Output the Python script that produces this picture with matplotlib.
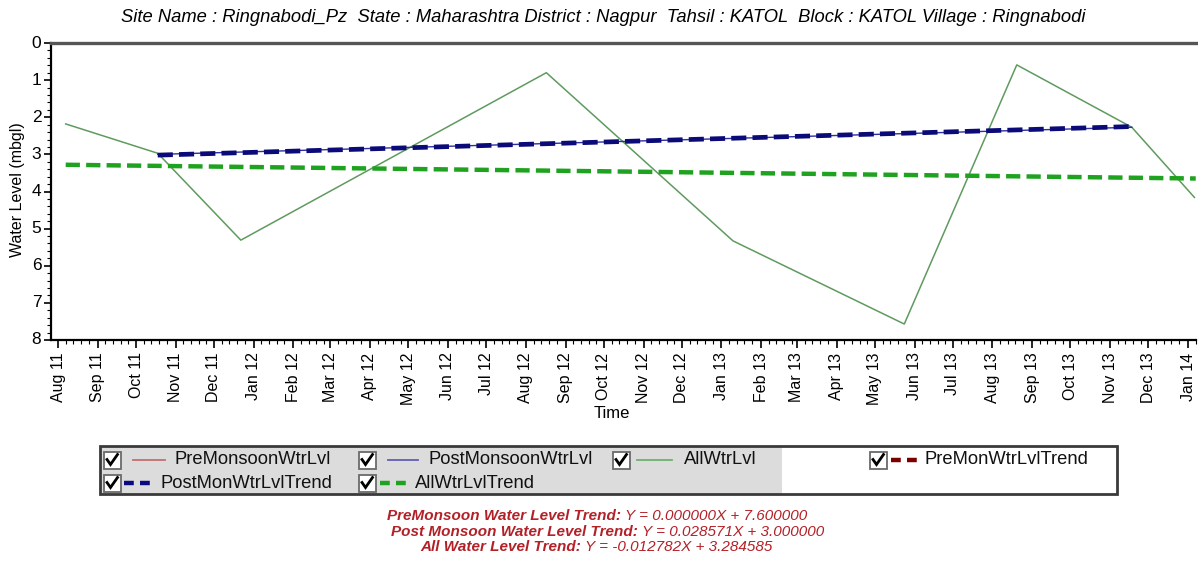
import matplotlib
matplotlib.use('Agg')
import matplotlib.pyplot as plt
import matplotlib.dates as mdates
import pandas as pd
from matplotlib.patches import Rectangle
from matplotlib.lines import Line2D

plt.rcParams['font.family'] = ['Liberation Sans', 'DejaVu Sans']

# ---- data ----
all_dates = ['2011-08-07', '2011-10-18', '2011-12-22', '2012-08-17', '2013-01-10',
             '2013-05-24', '2013-08-20', '2013-11-18', '2014-01-06']
all_levels = [2.18, 2.97, 5.31, 0.80, 5.33, 7.57, 0.59, 2.27, 4.16]

post_dates = ['2011-10-18', '2013-11-18']
post_levels = [3.00, 2.27]

pre_dates = ['2013-05-24']
pre_levels = [7.57]

pre_trend_dates = ['2013-05-24']
pre_trend_levels = [7.60]

post_trend_dates = ['2011-10-18', '2013-11-18']
post_trend_levels = [3.02, 2.25]

all_trend_dates = ['2011-08-07', '2014-01-07']
all_trend_levels = [3.28, 3.65]

title = ("Site Name : Ringnabodi_Pz  State : Maharashtra District : Nagpur  "
         "Tahsil : KATOL  Block : KATOL Village : Ringnabodi")
trend_labels = ["PreMonsoon Water Level Trend:", "Post Monsoon Water Level Trend:",
                "All Water Level Trend:"]
trend_eqs = ["Y = 0.000000X + 7.600000", "Y = 0.028571X + 3.000000",
             "Y = -0.012782X + 3.284585"]

W, H = 1198, 562
fig = plt.figure(figsize=(W / 100, H / 100), dpi=100)
fig.patch.set_facecolor('white')

L, R, T, B = 51, 1196, 43, 340
ax = fig.add_axes([L / W, 1 - B / H, (R - L) / W, (B - T) / H])

td = pd.to_datetime
ax.plot(td(all_dates), all_levels, color='#5f9a5f', lw=1.1, zorder=2)
ax.plot(td(pre_dates), pre_levels, color='#c06060', lw=1.0, zorder=2)
ax.plot(td(post_dates), post_levels, color='#3030a0', lw=1.0, zorder=3)
ax.plot(td(pre_trend_dates), pre_trend_levels, color='#800000', lw=3, dashes=(3, 1.4), zorder=3)
ax.plot(td(all_trend_dates), all_trend_levels, color='#1fa21f', lw=3.2,
        dashes=(3.2, 1.4), zorder=4)
ax.plot(td(post_trend_dates), post_trend_levels, color='#0a0a78', lw=3.4,
        dashes=(3.2, 1.3), zorder=5)

ax.set_xlim(pd.Timestamp('2011-07-26 12:00'), pd.Timestamp('2014-01-07 05:00'))
ax.set_ylim(8, 0)
ax.set_yticks(range(0, 9))
ax.yaxis.set_minor_locator(matplotlib.ticker.MultipleLocator(0.2))
ax.xaxis.set_major_locator(mdates.MonthLocator())
ax.xaxis.set_major_formatter(mdates.DateFormatter('%b %y'))
ax.xaxis.set_minor_locator(mdates.MonthLocator(bymonthday=[7, 13, 19, 25]))
ax.tick_params(axis='x', which='major', rotation=90, labelsize=11.5, length=6, width=1.2,
               direction='out', pad=3)
ax.tick_params(axis='y', which='major', labelsize=12.5, length=5, width=1.2,
               direction='out', pad=2)
ax.tick_params(which='minor', length=3, width=0.8, direction='out')
for lab in ax.get_yticklabels():
    lab.set_verticalalignment('center')

ax.spines['left'].set_linewidth(1.6)
ax.spines['bottom'].set_linewidth(1.6)
ax.spines['top'].set_linewidth(2.4)
ax.spines['top'].set_color('#555555')
ax.spines['right'].set_visible(False)

fig.text(18 / W, 1 - 190 / H, "Water Level (mbgl)", rotation=90, ha='center', va='center',
         fontsize=11.5)
fig.text(612 / W, 1 - 414 / H, "Time", ha='center', va='center', fontsize=12)
fig.text(603 / W, 1 - 18 / H, title, ha='center', va='center', fontsize=13.2,
         style='italic')

# ---- legend (drawn in pixel coordinates) ----
lax = fig.add_axes([0, 0, 1, 1], zorder=10)
lax.set_xlim(0, W)
lax.set_ylim(H, 0)
lax.axis('off')

lax.add_patch(Rectangle((100, 446), 1017, 48, fc='white', ec='none'))
lax.add_patch(Rectangle((100, 446), 682, 48, fc='#dcdcdc', ec='none'))
lax.add_patch(Rectangle((100, 446), 1017, 48, fc='none', ec='#3a3a3a', lw=2))


def checkbox(cx, cy):
    lax.add_patch(Rectangle((cx - 8.5, cy - 8.5), 17, 17, fc='white', ec='#6a6a6a', lw=1.3))
    lax.add_line(Line2D([cx - 5, cx - 1.5, cx + 5.5], [cy - 0.5, cy + 4.5, cy - 5.5],
                        color='black', lw=2.0, solid_joinstyle='miter'))


entries = [
    (112, 460, 133, 165, '#c07070', 1.3, None, "PreMonsoonWtrLvl", 174),
    (367, 460, 388, 418, '#6060b0', 1.3, None, "PostMonsoonWtrLvl", 428),
    (621, 460, 637, 672, '#70b070', 1.3, None, "AllWtrLvl", 684),
    (878, 460, 891, 918, '#7a0000', 3.2, (2.2, 1.4), "PreMonWtrLvlTrend", 925),
    (112, 483, 124, 152, '#0a0a80', 3.2, (2.2, 1.4), "PostMonWtrLvlTrend", 160),
    (367, 483, 380, 408, '#1fa21f', 3.2, (2.2, 1.4), "AllWtrLvlTrend", 415),
]
for cx, cy, x0, x1, col, lw, dsh, lab, tx in entries:
    checkbox(cx, cy)
    ln = Line2D([x0, x1], [cy, cy], color=col, lw=lw)
    if dsh:
        ln.set_dashes(dsh)
    lax.add_line(ln)
    lax.text(tx, cy, lab, ha='left', va='center', fontsize=13.2, color='#111111')

# ---- trend equations (each line centred as a whole) ----
tcol = '#b32128'
renderer = fig.canvas.get_renderer()
centres = [597, 608, 596]
for i, (a, b) in enumerate(zip(trend_labels, trend_eqs)):
    y = 516 + i * 15.5
    ta = lax.text(0, y, a, ha='left', va='center', fontsize=11, style='italic',
                  fontweight='bold', color=tcol)
    tb = lax.text(0, y, b, ha='left', va='center', fontsize=11, style='italic', color=tcol)
    wa = ta.get_window_extent(renderer).width
    wb = tb.get_window_extent(renderer).width
    gap = 4
    x0 = centres[i] - (wa + gap + wb) / 2
    ta.set_x(x0)
    tb.set_x(x0 + wa + gap)

fig.savefig('out.png', dpi=100, facecolor='white')
